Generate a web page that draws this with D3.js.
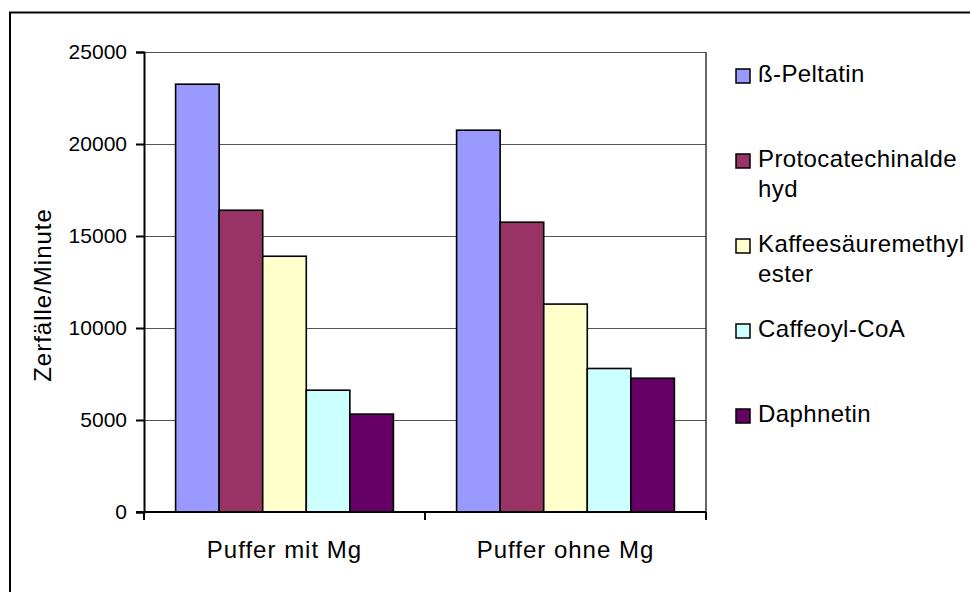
<!DOCTYPE html>
<html>
<head>
<meta charset="utf-8">
<script src="https://cdn.jsdelivr.net/npm/d3@7"></script>
<style>
body { margin: 0; background: #fff; }
text { font-family: 'Liberation Sans', Arial, sans-serif; fill: #000; }
</style>
</head>
<body>
<div id="chart"></div>
<script>

const categories = ['Puffer mit Mg', 'Puffer ohne Mg']

const seriesNames = ['ß-Peltatin', 'Protocatechinaldehyd', 'Kaffeesäuremethylester', 'Caffeoyl-CoA', 'Daphnetin']

// how Excel wrapped the legend entries
const legendLines = [
	['ß-Peltatin'],
	['Protocatechinalde', 'hyd'],
	['Kaffeesäuremethyl', 'ester'],
	['Caffeoyl-CoA'],
	['Daphnetin']
]

const pufferMitMg = [23250, 16400, 13900, 6620, 5320]
const pufferOhneMg = [20750, 15750, 11300, 7800, 7270]

const yTicks = [0, 5000, 10000, 15000, 20000, 25000]

const colors = ['#9999ff', '#993366', '#ffffcc', '#ccffff', '#660066']

let width = 970
let height = 592

let plot = {left: 144, right: 706, top: 52, bottom: 512}

let svg = d3.select('#chart').append('svg')
.attr('width', width)
.attr('height', height)

// outer chart border (only top and left show in frame)
svg.append('rect')
.attr('x', 10)
.attr('y', 12.5)
.attr('width', 1000)
.attr('height', 650)
.attr('fill', '#fff')
.attr('stroke', '#000')
.attr('stroke-width', 2)

let x0 = d3.scaleBand()
.domain(categories)
.range([plot.left, plot.right])

let x1 = d3.scaleBand()
.domain(seriesNames)
.range([0, x0.bandwidth()])
.paddingInner(0)
.paddingOuter(0.725)

let y = d3.scaleLinear()
.domain([0, 25000])
.range([plot.bottom, plot.top])

let gridGroup = svg.append('g')
let barsGroup = svg.append('g')
let axisGroup = svg.append('g')
let legendGroup = svg.append('g')

gridGroup.selectAll('line')
.data(yTicks.filter(d => d > 0))
.enter()
.append('line')
.attr('x1', plot.left)
.attr('x2', plot.right)
.attr('y1', d => Math.round(y(d)) + 0.5)
.attr('y2', d => Math.round(y(d)) + 0.5)
.attr('stroke', '#555')
.attr('stroke-width', 1)

// plot area right edge
gridGroup.append('line')
.attr('x1', plot.right)
.attr('x2', plot.right)
.attr('y1', plot.top)
.attr('y2', plot.bottom)
.attr('stroke', '#333')
.attr('stroke-width', 1.5)

let data = [pufferMitMg, pufferOhneMg]

let groups = barsGroup.selectAll('g')
.data(data)
.enter()
.append('g')
.attr('transform', (d, i) => `translate(${x0(categories[i])},0)`)

groups.selectAll('rect')
.data(d => d.map((v, i) => ({name: seriesNames[i], value: v, i: i})))
.enter()
.append('rect')
.attr('x', d => x1(d.name))
.attr('y', d => y(d.value))
.attr('width', x1.bandwidth())
.attr('height', d => y(0) - y(d.value))
.attr('fill', d => colors[d.i])
.attr('stroke', '#000')
.attr('stroke-width', 1.6)

// y axis
let yAxis = d3.axisLeft(y)
.tickValues(yTicks)
.tickSize(8)
.tickPadding(9)
.tickFormat(d3.format('d'))

axisGroup.append('g')
.attr('transform', `translate(${plot.left},0)`)
.call(yAxis)
.call(g => g.select('.domain').attr('stroke-width', 2))
.call(g => g.selectAll('.tick line').attr('stroke-width', 2))
.call(g => g.selectAll('.tick text')
	.style('font-size', '21px')
	.style('font-family', "'Liberation Sans', Arial, sans-serif"))

// x axis, ticks on category boundaries
let xAxisLine = axisGroup.append('g')

xAxisLine.append('line')
.attr('x1', plot.left - 8)
.attr('x2', plot.right)
.attr('y1', plot.bottom)
.attr('y2', plot.bottom)
.attr('stroke', '#000')
.attr('stroke-width', 2)

xAxisLine.selectAll('.xtick')
.data(categories.concat(['end']))
.enter()
.append('line')
.attr('class', 'xtick')
.attr('x1', (d, i) => i < categories.length ? x0(d) : plot.right)
.attr('x2', (d, i) => i < categories.length ? x0(d) : plot.right)
.attr('y1', plot.bottom)
.attr('y2', plot.bottom + 8)
.attr('stroke', '#000')
.attr('stroke-width', 2)

xAxisLine.selectAll('.xlabel')
.data(categories)
.enter()
.append('text')
.attr('class', 'xlabel')
.attr('x', d => x0(d) + x0.bandwidth() / 2)
.attr('y', 558)
.attr('text-anchor', 'middle')
.style('font-size', '24px')
.style('letter-spacing', '1px')
.text(d => d)

// y title
svg.append('text')
.attr('transform', 'translate(51,295) rotate(-90)')
.attr('text-anchor', 'middle')
.style('font-size', '24px')
.style('letter-spacing', '1px')
.text('Zerfälle/Minute')

// legend
let items = legendGroup.selectAll('g')
.data(legendLines)
.enter()
.append('g')
.attr('transform', (d, i) => `translate(736,${82 + i * 85})`)

items.append('rect')
.attr('x', 0)
.attr('y', -13)
.attr('width', 14)
.attr('height', 14)
.attr('fill', (d, i) => colors[i])
.attr('stroke', '#000')
.attr('stroke-width', 1.5)

items.append('text')
.attr('x', 22)
.attr('y', 0)
.style('font-size', '24px')
.style('letter-spacing', '0.4px')
.selectAll('tspan')
.data(d => d)
.enter()
.append('tspan')
.attr('x', 22)
.attr('dy', (d, i) => i === 0 ? 0 : 30)
.text(d => d)

</script>
</body>
</html>
